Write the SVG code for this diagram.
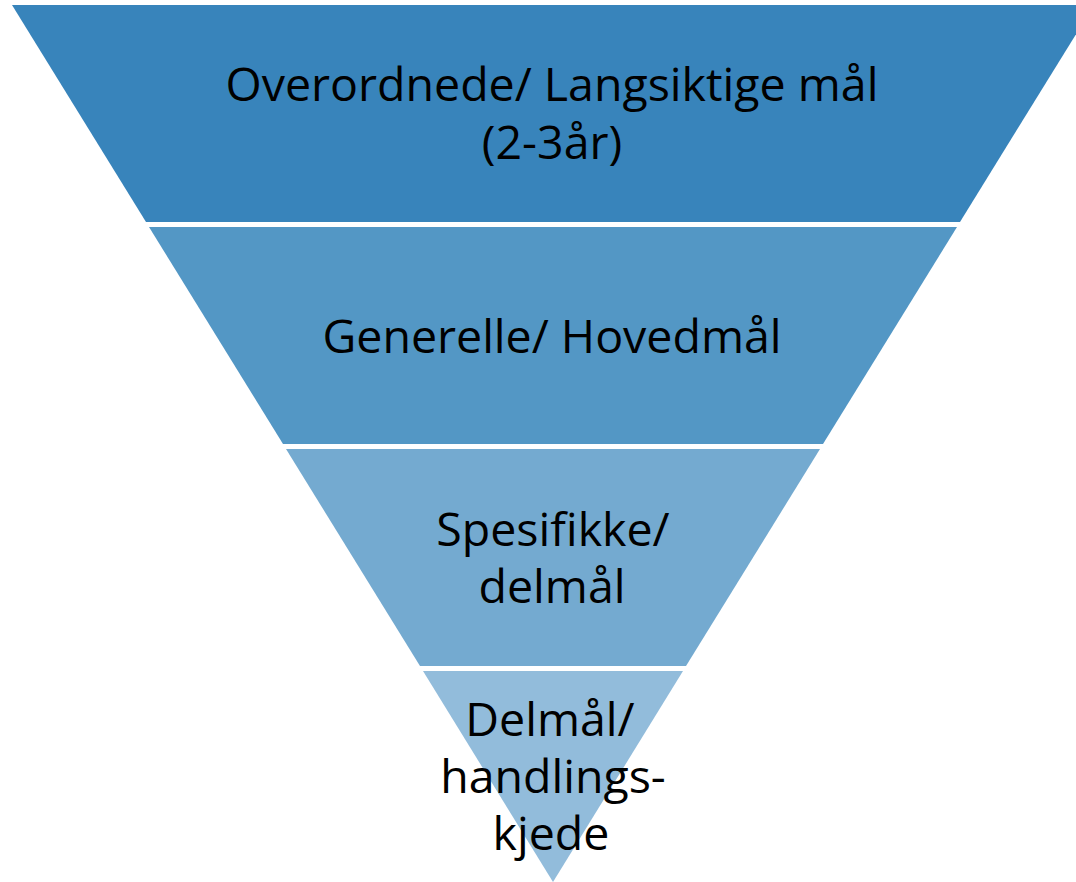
<svg xmlns="http://www.w3.org/2000/svg" width="1076" height="882" viewBox="0 0 1076 882">
<style>
.lbl{font-family:"Open Sans","Liberation Sans",sans-serif;font-size:46.5px;fill:#000;text-anchor:middle}
</style>
<rect width="1076" height="882" fill="#fff"/>
<g id="level1">
<polygon points="12,5 1094,5 960,222 146,222" fill="#3884bb"/>
<text class="lbl" x="552" y="101">Overordnede/ Langsiktige mål</text>
<text class="lbl" x="552" y="159">(2-3år)</text>
</g>
<g id="level2">
<polygon points="149,227 957,227 823,444 283,444" fill="#5397c5"/>
<text class="lbl" x="552" y="353">Generelle/ Hovedmål</text>
</g>
<g id="level3">
<polygon points="286,449 820,449 686,666 420,666" fill="#74aad0"/>
<text class="lbl" x="553" y="546">Spesifikke/</text>
<text class="lbl" x="552" y="603">delmål</text>
</g>
<g id="level4">
<polygon points="423,671 683,671 553,882" fill="#92bcdb"/>
<text class="lbl" x="550" y="736">Delmål/</text>
<text class="lbl" x="553" y="793">handlings-</text>
<text class="lbl" x="551" y="850">kjede</text>
</g>
<g id="connectors"></g>
</svg>
